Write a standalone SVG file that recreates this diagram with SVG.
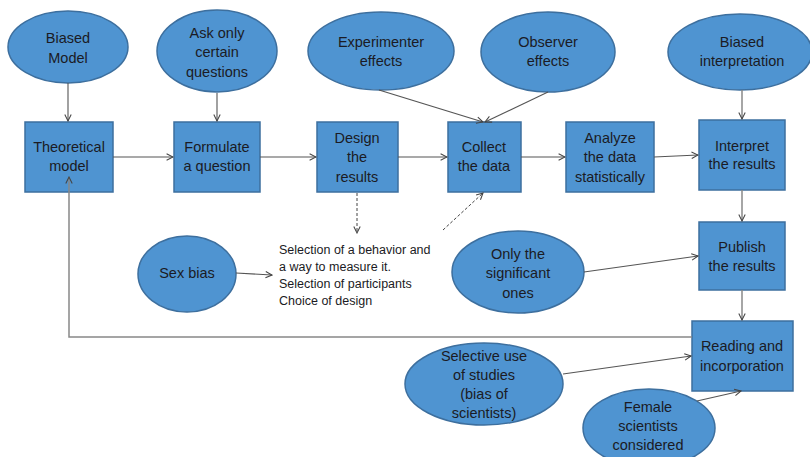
<svg xmlns="http://www.w3.org/2000/svg" width="810" height="457" viewBox="0 0 810 457">
<style>
.n{fill:#4f94d1;stroke:#3d6f9e;stroke-width:1.5}
.t{font-family:"Liberation Sans",Arial,sans-serif;font-size:14.5px;fill:#1b1b24;text-anchor:middle}
.p{font-family:"Liberation Sans",Arial,sans-serif;font-size:12.5px;fill:#1b1b24}
.c{fill:none;stroke:#555;stroke-width:1.1}
.g{fill:none;stroke:#888;stroke-width:1.5}
.d{fill:none;stroke:#444;stroke-width:1;stroke-dasharray:3,2}
</style>
<defs>
<marker id="a" viewBox="0 0 10 10" refX="9" refY="5" markerWidth="8" markerHeight="8" markerUnits="userSpaceOnUse" orient="auto">
<polyline points="1,1 9,5 1,9" fill="none" stroke="#444" stroke-width="1.3"/>
</marker>
</defs>
<rect width="810" height="457" fill="#fff"/>
<g id="biased-model"><ellipse class="n" cx="68" cy="47" rx="60" ry="36"/><text class="t" x="68" y="43">Biased</text><text class="t" x="68" y="63">Model</text></g>
<g id="ask-only"><ellipse class="n" cx="217" cy="51" rx="60" ry="41"/><text class="t" x="217" y="38">Ask only</text><text class="t" x="217" y="57">certain</text><text class="t" x="217" y="77">questions</text></g>
<g id="experimenter"><ellipse class="n" cx="381" cy="51" rx="73" ry="39"/><text class="t" x="381" y="47">Experimenter</text><text class="t" x="381" y="66">effects</text></g>
<g id="observer"><ellipse class="n" cx="548" cy="52" rx="67" ry="40"/><text class="t" x="548" y="47">Observer</text><text class="t" x="548" y="66">effects</text></g>
<g id="biased-interp"><ellipse class="n" cx="740" cy="52" rx="72" ry="38"/><text class="t" x="742" y="47">Biased</text><text class="t" x="742" y="66">interpretation</text></g>
<g id="theoretical"><rect class="n" x="25" y="122" width="88" height="70"/><text class="t" x="69" y="152">Theoretical</text><text class="t" x="69" y="171">model</text></g>
<g id="formulate"><rect class="n" x="174" y="122" width="86" height="70"/><text class="t" x="217" y="152">Formulate</text><text class="t" x="217" y="171">a question</text></g>
<g id="design"><rect class="n" x="317" y="122" width="81" height="70"/><text class="t" x="357" y="143">Design</text><text class="t" x="357" y="162">the</text><text class="t" x="357" y="182">results</text></g>
<g id="collect"><rect class="n" x="448" y="122" width="73" height="70"/><text class="t" x="484" y="152">Collect</text><text class="t" x="484" y="171">the data</text></g>
<g id="analyze"><rect class="n" x="566" y="122" width="88" height="70"/><text class="t" x="610" y="143">Analyze</text><text class="t" x="610" y="162">the data</text><text class="t" x="610" y="182">statistically</text></g>
<g id="interpret"><rect class="n" x="699" y="120" width="86" height="70"/><text class="t" x="742" y="151">Interpret</text><text class="t" x="742" y="169">the results</text></g>
<g id="publish"><rect class="n" x="699" y="222" width="86" height="68"/><text class="t" x="742" y="252">Publish</text><text class="t" x="742" y="271">the results</text></g>
<g id="reading"><rect class="n" x="692" y="321" width="101" height="70"/><text class="t" x="742" y="351">Reading and</text><text class="t" x="742" y="371">incorporation</text></g>
<g id="sex-bias"><ellipse class="n" cx="187" cy="274" rx="49" ry="38"/><text class="t" x="187" y="278">Sex bias</text></g>
<g id="significant"><ellipse class="n" cx="518" cy="272" rx="66" ry="41"/><text class="t" x="518" y="259">Only the</text><text class="t" x="518" y="278">significant</text><text class="t" x="518" y="298">ones</text></g>
<g id="selective"><ellipse class="n" cx="484" cy="384" rx="79" ry="41"/><text class="t" x="484" y="361">Selective use</text><text class="t" x="484" y="380">of studies</text><text class="t" x="484" y="399">(bias of</text><text class="t" x="484" y="418">scientists)</text></g>
<g id="female"><ellipse class="n" cx="649" cy="428" rx="66" ry="39"/><text class="t" x="648" y="412">Female</text><text class="t" x="648" y="431">scientists</text><text class="t" x="648" y="450">considered</text></g>
<g id="design-notes">
<text class="p" x="279" y="254">Selection of a behavior and</text>
<text class="p" x="279" y="271">a way to measure it.</text>
<text class="p" x="279" y="288">Selection of participants</text>
<text class="p" x="279" y="305">Choice of design</text>
</g>
<g id="connectors">
<line class="c" x1="68" y1="83" x2="68" y2="121" marker-end="url(#a)"/>
<line class="c" x1="217" y1="93" x2="217" y2="121" marker-end="url(#a)"/>
<line class="c" x1="113" y1="157" x2="173" y2="157" marker-end="url(#a)"/>
<line class="c" x1="260" y1="157" x2="316" y2="157" marker-end="url(#a)"/>
<line class="c" x1="398" y1="157" x2="447" y2="157" marker-end="url(#a)"/>
<line class="c" x1="521" y1="157" x2="565" y2="157" marker-end="url(#a)"/>
<line class="c" x1="654" y1="157" x2="698" y2="155" marker-end="url(#a)"/>
<line class="c" x1="379" y1="90" x2="483" y2="122" marker-end="url(#a)"/>
<line class="c" x1="548" y1="92" x2="485" y2="122" marker-end="url(#a)"/>
<line class="g" x1="742" y1="90" x2="742" y2="119" marker-end="url(#a)"/>
<line class="g" x1="742" y1="190" x2="742" y2="221" marker-end="url(#a)"/>
<line class="g" x1="742" y1="290" x2="742" y2="320" marker-end="url(#a)"/>
<line class="c" x1="584" y1="272" x2="698" y2="256" marker-end="url(#a)"/>
<line class="c" x1="563" y1="374" x2="691" y2="356" marker-end="url(#a)"/>
<line class="c" x1="697" y1="401" x2="741" y2="391" marker-end="url(#a)"/>
<line class="c" x1="236" y1="273" x2="272" y2="275" marker-end="url(#a)"/>
<polyline class="g" points="692,337 69,337 69,177" marker-end="url(#a)"/>
<line class="d" x1="357" y1="193" x2="357" y2="233" marker-end="url(#a)"/>
<line class="d" x1="443" y1="230" x2="483" y2="193" marker-end="url(#a)"/>
</g>
</svg>
